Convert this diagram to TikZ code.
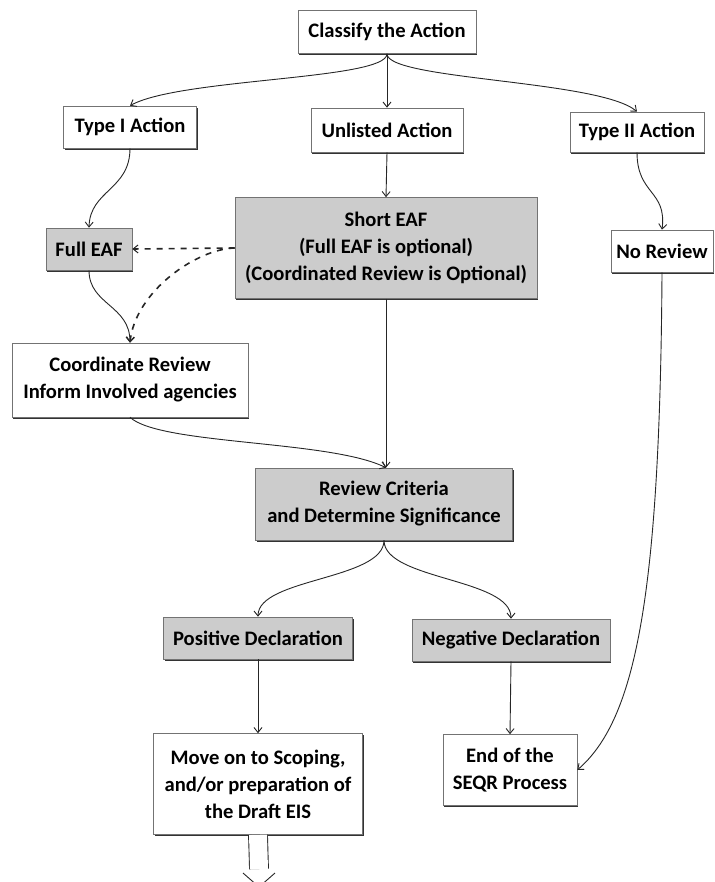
\documentclass[tikz,border=0pt]{standalone}
\usepackage{fontspec}
\setmainfont{Carlito}
\usetikzlibrary{arrows.meta,shadows,calc}
\begin{document}
\begin{tikzpicture}[x=1pt,y=-1pt,
  box/.style={draw=black!55, line width=0.6pt, fill=white, align=center,
    inner sep=0pt, font=\fontsize{20.6}{27}\selectfont\bfseries,
    drop shadow={shadow xshift=1.2pt, shadow yshift=-1.6pt, fill=black!80, opacity=1}},
  graybox/.style={box, fill=black!20},
  conn/.style={draw=black!85, line width=0.9pt, -{Straight Barb[length=5pt,width=8pt]}},
  dconn/.style={draw=black!85, line width=1.6pt, dash pattern=on 6pt off 6pt,
    -{Straight Barb[length=5pt,width=8pt,line width=1pt]}}]
\useasboundingbox (0,0) rectangle (714,882);

\node[box, minimum width=178pt, minimum height=43pt] (classify) at (387,32) {Classify the Action};
\node[box, minimum width=133pt, minimum height=42pt] (type1) at (130,127) {Type I Action};
\node[box, minimum width=152pt, minimum height=44pt] (unlisted) at (387,130) {Unlisted Action};
\node[box, minimum width=134pt, minimum height=40pt] (type2) at (637,132) {Type II Action};
\node[graybox, minimum width=86pt, minimum height=42pt] (fulleaf) at (89,249) {Full EAF};
\node[graybox, minimum width=302pt, minimum height=101pt] (short) at (386,248) {Short EAF\\(Full EAF is optional)\\(Coordinated Review is Optional)};
\node[box, minimum width=102pt, minimum height=42pt] (noreview) at (662,251) {No Review};
\node[box, minimum width=236pt, minimum height=74pt] (coord) at (130,380) {Coordinate Review\\Inform Involved agencies};
\node[graybox, minimum width=257pt, minimum height=72pt] (review) at (384,504) {Review Criteria\\and Determine Significance};
\node[graybox, minimum width=189pt, minimum height=42pt] (pos) at (258,638) {Positive Declaration};
\node[graybox, minimum width=198pt, minimum height=42pt] (neg) at (511,640) {Negative Declaration};
\node[box, minimum width=209pt, minimum height=101pt] (move) at (258,784) {Move on to Scoping,\\and/or preparation of\\the Draft EIS};
\node[box, minimum width=134pt, minimum height=71pt] (endp) at (510,770) {End of the\\SEQR Process};

% top fan-out
\draw[conn] (classify.south) .. controls (387,80) and (180,78) .. (type1.north);
\draw[conn] (classify.south) -- (unlisted.north);
\draw[conn] (classify.south) .. controls (387,80) and (600,80) .. (type2.north);

% left branch
\draw[conn] (type1.south) .. controls (130,190) and (90,190) .. (fulleaf.north);
\draw[conn] (fulleaf.south) .. controls (89,305) and (130,305) .. (coord.north);
\draw[dconn] (short.west) -- (fulleaf.east);
\draw[dconn] (short.west) .. controls (196,249) and (135,292) .. (coord.north);

% middle
\draw[conn] (unlisted.south) -- (short.north);
\draw[conn] (short.south) -- (short.south |- review.north);
\draw[conn] (coord.south) .. controls (160,445) and (330,440) .. (short.south |- review.north);

% right branch
\draw[conn] (type2.south) .. controls (637,195) and (667,190) .. (noreview.north);
\draw[conn] (noreview.south) .. controls (660,600) and (635,720) .. (endp.east);

% lower
\draw[conn] (review.south) .. controls (384,580) and (258,578) .. (pos.north);
\draw[conn] (review.south) .. controls (384,580) and (511,578) .. (neg.north);
\draw[conn] (pos.south) -- (move.north);
\draw[conn] (neg.south) -- (endp.north);

% open double arrow
\coordinate (shaftend) at (259,869);
\coordinate (tip) at (259,887);
\draw[black!85, line width=0.9pt, double=white, double distance=18pt] (move.south) -- (shaftend);
\draw[black!85, line width=0.9pt] ($(tip)+(-16,-14)$) -- (tip) -- ($(tip)+(16,-14)$);
\end{tikzpicture}
\end{document}
